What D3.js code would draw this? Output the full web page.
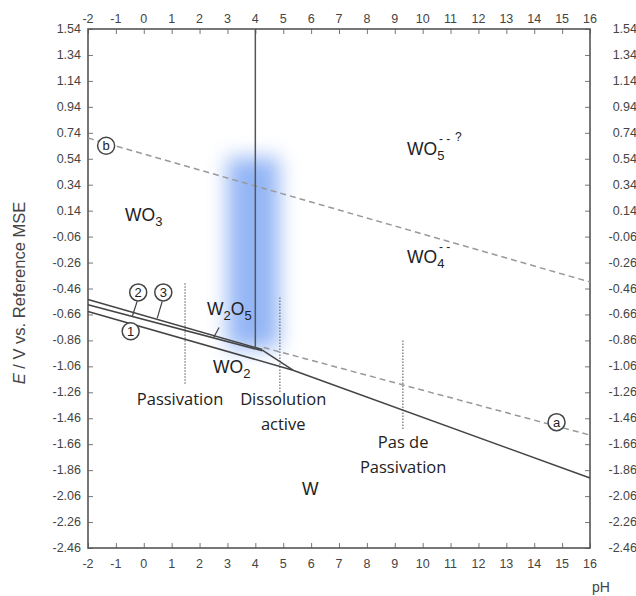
<!DOCTYPE html>
<html><head><meta charset="utf-8">
<script src="https://cdn.jsdelivr.net/npm/d3@7"></script>
<style>body{margin:0;background:#fff}svg{display:block}</style>
</head><body><svg id="c" width="636" height="596"></svg>
<script>
// ---- data ----
const xTicks = [-2,-1,0,1,2,3,4,5,6,7,8,9,10,11,12,13,14,15,16];
const yTicks = [1.54,1.34,1.14,0.94,0.74,0.54,0.34,0.14,-0.06,-0.26,-0.46,-0.66,-0.86,-1.06,-1.26,-1.46,-1.66,-1.86,-2.06,-2.26,-2.46];
const line1 = [[-2,-0.637],[5.35,-1.09]];
const line2 = [[-2,-0.545],[4.25,-0.93]];
const line3 = [[-2,-0.585],[4.25,-0.94]];
const junction = [[4.25,-0.935],[5.35,-1.09]];
const lineWWO4 = [[5.35,-1.09],[16,-1.92]];
const vertical4 = [[4,1.54],[4,-0.92]];
const lineA = [[4.3,-0.915],[16,-1.59]];
const lineB = [[-2,0.70],[16,-0.41]];
const dotted = [[[1.48,-0.42],[1.48,-1.20]],[[4.88,-0.53],[4.88,-1.27]],[[9.29,-0.86],[9.29,-1.55]]];
const bandPH = [3.0,4.85];
const bandE = [0.55,-0.92];
const circled = [{t:"b",p:[-1.35,0.64]},{t:"a",p:[14.8,-1.49]},{t:"1",p:[-0.47,-0.79]},{t:"2",p:[-0.2,-0.49]},{t:"3",p:[0.7,-0.49]}];
const leaders = [[[-0.24,-0.56],[-0.42,-0.68]],[[0.66,-0.56],[0.48,-0.69]],[[2.7,-0.76],[2.5,-0.84]]];
const notes = [{lines:["Passivation"],p:[1.3,-1.36]},{lines:["Dissolution","active"],p:[5.0,-1.36]},{lines:["Pas de","Passivation"],p:[9.3,-1.69]}];

const svg = d3.select("#c");
const x = d3.scaleLinear().domain([-2,16]).range([88,590]);
const y = d3.scaleLinear().domain([-2.46,1.54]).range([548,29]);
const line = d3.line().x(d=>x(d[0])).y(d=>y(d[1]));

// blue band
const defs = svg.append("defs");
defs.append("filter").attr("id","blur").attr("x","-50%").attr("y","-30%").attr("width","200%").attr("height","160%")
  .append("feGaussianBlur").attr("stdDeviation",10);
svg.append("rect").attr("x",x(bandPH[0])).attr("y",y(bandE[0]))
  .attr("width",x(bandPH[1])-x(bandPH[0])).attr("height",y(bandE[1])-y(bandE[0]))
  .attr("fill","#6f9df2").attr("opacity",0.75).attr("filter","url(#blur)");

// axes
const axCol = "#555";
const fmtY = d=>d.toFixed(2);
const gL = svg.append("g").attr("transform",`translate(${x(-2)},0)`)
  .call(d3.axisRight(y).tickValues(yTicks).tickSize(5).tickFormat(""));
const gR = svg.append("g").attr("transform",`translate(${x(16)},0)`)
  .call(d3.axisLeft(y).tickValues(yTicks).tickSize(5).tickFormat(""));
const gT = svg.append("g").attr("transform",`translate(0,${y(1.54)})`)
  .call(d3.axisBottom(x).tickValues(xTicks).tickSize(5).tickFormat(""));
const gB = svg.append("g").attr("transform",`translate(0,${y(-2.46)})`)
  .call(d3.axisTop(x).tickValues(xTicks).tickSize(5).tickFormat(""));
[gL,gR,gT,gB].forEach(g=>{g.select(".domain").remove();g.selectAll("line").attr("stroke","#777").attr("stroke-width",1);});
svg.append("rect").attr("x",x(-2)).attr("y",y(1.54)).attr("width",x(16)-x(-2)).attr("height",y(-2.46)-y(1.54))
  .attr("fill","none").attr("stroke",axCol).attr("stroke-width",1.6);

const tf = "Liberation Sans, Arial, sans-serif";
svg.append("g").selectAll("text").data(yTicks).join("text")
  .attr("x",81).attr("y",d=>y(d)+4).attr("text-anchor","end").attr("font-family",tf).attr("font-size",12.5).attr("fill","#444").text(fmtY);
svg.append("g").selectAll("text").data(yTicks).join("text")
  .attr("x",637).attr("y",d=>y(d)+4).attr("text-anchor","end").attr("font-family",tf).attr("font-size",12.5).attr("fill","#444").text(fmtY);
svg.append("g").selectAll("text").data(xTicks).join("text")
  .attr("x",d=>x(d)).attr("y",23).attr("text-anchor","middle").attr("font-family",tf).attr("font-size",12.5).attr("fill","#444").text(d=>d);
svg.append("g").selectAll("text").data(xTicks).join("text")
  .attr("x",d=>x(d)).attr("y",568).attr("text-anchor","middle").attr("font-family",tf).attr("font-size",12.5).attr("fill","#444").text(d=>d);
svg.append("text").attr("x",601).attr("y",592).attr("text-anchor","middle").attr("font-family",tf).attr("font-size",14).attr("fill","#444").text("pH");
const yl = svg.append("text").attr("transform","translate(25,293) rotate(-90)").attr("text-anchor","middle")
  .attr("font-family",tf).attr("font-size",16.5).attr("fill","#444");
yl.append("tspan").attr("font-style","italic").text("E");
yl.append("tspan").text(" / V vs. Reference MSE");

// dashed lines
[lineA,lineB].forEach(d=>svg.append("path").attr("d",line(d)).attr("fill","none").attr("stroke","#999").attr("stroke-width",1.5).attr("stroke-dasharray","6,4"));
// dotted
dotted.forEach(d=>svg.append("path").attr("d",line(d)).attr("fill","none").attr("stroke","#777").attr("stroke-width",1.3).attr("stroke-dasharray","1.5,1.5"));
// solid phase lines
[line1,line2,line3,junction,lineWWO4].forEach(d=>svg.append("path").attr("d",line(d)).attr("fill","none").attr("stroke","#444").attr("stroke-width",1.5));
svg.append("path").attr("d",line(vertical4)).attr("fill","none").attr("stroke","#555").attr("stroke-width",1.5);
// leaders
leaders.forEach(d=>svg.append("path").attr("d",line(d)).attr("fill","none").attr("stroke","#444").attr("stroke-width",1.2));

// circled labels
const cg = svg.append("g").selectAll("g").data(circled).join("g").attr("transform",d=>`translate(${x(d.p[0])},${y(d.p[1])})`);
cg.append("circle").attr("r",8.5).attr("fill","#fff").attr("stroke","#444").attr("stroke-width",1.5);
cg.append("text").attr("y",4.5).attr("text-anchor","middle").attr("font-family",tf).attr("font-size",13).attr("fill","#222").text(d=>d.t);

// species labels
const cf = "Liberation Sans, Arial, sans-serif";
function chem(px,py,parts){
  const t = svg.append("text").attr("x",px).attr("y",py).attr("font-family",cf).attr("font-size",17.5).attr("fill","#222");
  parts.forEach(p=>{
    const s = t.append("tspan").text(p.t);
    if(p.sub){s.attr("font-size",13).attr("dy",5);}
    if(p.back){s.attr("dy",p.back);}
  });
  return t;
}
function sup(px,py,txt){
  svg.append("text").attr("x",px).attr("y",py).attr("font-family",cf).attr("font-size",12).attr("fill","#222").text(txt);
}
chem(407,155,[{t:"WO"},{t:"5",sub:1}]);
sup(439,143,"- -");
sup(455,141,"?");
chem(407,263,[{t:"WO"},{t:"4",sub:1}]);
sup(439,251,"- -");
chem(125,221,[{t:"WO"},{t:"3",sub:1}]);
chem(207,315,[{t:"W"},{t:"2",sub:1},{t:"O",back:-5},{t:"5",sub:1}]);
chem(213,373,[{t:"WO"},{t:"2",sub:1}]);
chem(302,495,[{t:"W"}]);

// notes
const nf = "Open Sans, Lato, sans-serif";
notes.forEach(n=>{
  const t = svg.append("text").attr("text-anchor","middle").attr("font-family",nf).attr("font-size",16.5).attr("fill","#222");
  n.lines.forEach((l,i)=>t.append("tspan").attr("x",x(n.p[0])).attr("y",y(n.p[1])+i*25).text(l));
});
</script></body></html>
